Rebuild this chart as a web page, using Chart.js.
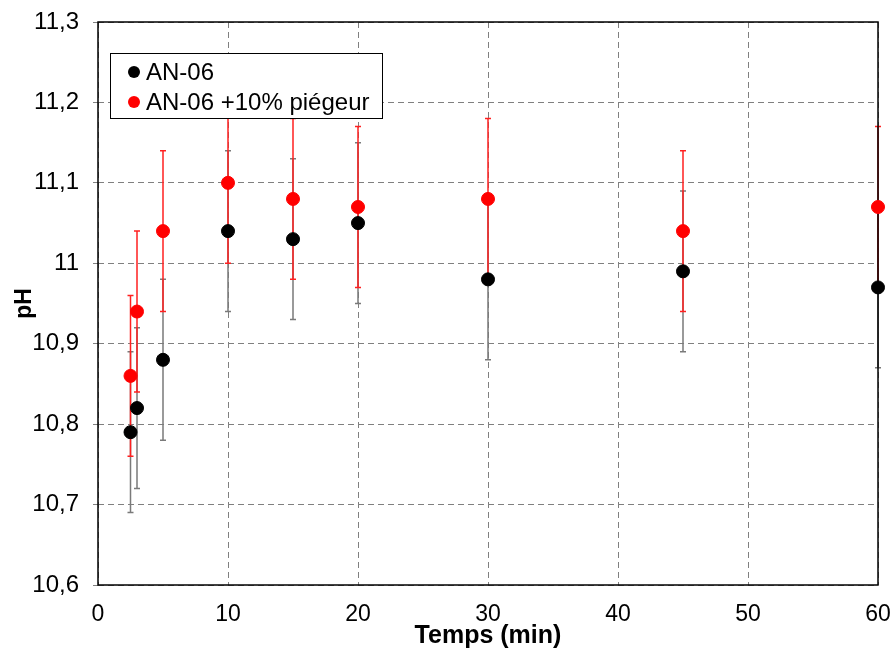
<!DOCTYPE html>
<html>
<head>
<meta charset="utf-8">
<script src="https://cdn.jsdelivr.net/npm/chart.js@4.4.1/dist/chart.umd.min.js"></script>
<style>
  html, body { margin: 0; padding: 0; background: #fff; }
  #wrap { width: 892px; height: 655px; }
</style>
</head>
<body>
<div id="wrap"><canvas id="phChart" width="892" height="655"></canvas></div>
<script>
// temps de prélèvement (min)
const timesAN06 = [2.5, 3, 5, 10, 15, 20, 30, 45, 60];
const timesPiegeur = [2.5, 3, 5, 10, 15, 20, 30, 45, 60];

// pH moyens
const phAN06 = [10.79, 10.82, 10.88, 11.04, 11.03, 11.05, 10.98, 10.99, 10.97];
const phPiegeur = [10.86, 10.94, 11.04, 11.10, 11.08, 11.07, 11.08, 11.04, 11.07];

// écarts (barres d'erreur)
const errAN06 = [0.1, 0.1, 0.1, 0.1, 0.1, 0.1, 0.1, 0.1, 0.1];
const errPiegeur = [0.1, 0.1, 0.1, 0.1, 0.1, 0.1, 0.1, 0.1, 0.1];

const seriesLabels = ['AN-06', 'AN-06 +10% piégeur'];
const xTitle = 'Temps (min)';
const yTitle = 'pH';

const FONT = "'Liberation Sans', Arial, sans-serif";

const toPoints = (xs, ys, errs) => xs.map((x, i) => ({ x: x, y: ys[i], err: errs[i] }));

// barres d'erreur verticales + cadre, dessinés sous les points
const errorBars = {
  id: 'errorBars',
  beforeDatasetsDraw(chart) {
    const { ctx, scales: { x, y } } = chart;
    // AN-06 d'abord, puis piégeur par-dessus
    chart.data.datasets.forEach((ds) => {
      ctx.save();
      ctx.strokeStyle = ds.errColor;
      ctx.lineWidth = 1.5;
      ds.data.forEach((p) => {
        const px = x.getPixelForValue(p.x);
        const yTop = y.getPixelForValue(p.y + p.err);
        const yBot = y.getPixelForValue(p.y - p.err);
        ctx.beginPath();
        ctx.moveTo(px, yTop);
        ctx.lineTo(px, yBot);
        ctx.moveTo(px - 3, yTop);
        ctx.lineTo(px + 3, yTop);
        ctx.moveTo(px - 3, yBot);
        ctx.lineTo(px + 3, yBot);
        ctx.stroke();
      });
      ctx.restore();
    });
    const a = chart.chartArea;
    ctx.save();
    ctx.strokeStyle = '#000';
    ctx.lineWidth = 1.5;
    ctx.strokeRect(a.left, a.top, a.right - a.left, a.bottom - a.top);
    ctx.restore();
  }
};

// légende encadrée dans la zone du graphique
const boxedLegend = {
  id: 'boxedLegend',
  afterDraw(chart) {
    const { ctx } = chart;
    const left = 110, top = 53, w = 272, h = 65;
    ctx.save();
    ctx.fillStyle = '#fff';
    ctx.fillRect(left, top, w, h);
    ctx.strokeStyle = '#000';
    ctx.lineWidth = 1;
    ctx.strokeRect(left + 0.5, top + 0.5, w, h);
    ctx.font = '24px ' + FONT;
    ctx.textBaseline = 'middle';
    chart.data.datasets.forEach((ds, i) => {
      const cy = top + 19 + i * 30;
      ctx.fillStyle = ds.backgroundColor;
      ctx.beginPath();
      ctx.arc(134, cy, 6, 0, Math.PI * 2);
      ctx.fill();
      ctx.fillStyle = '#000';
      ctx.fillText(ds.label, 146, cy + 1);
    });
    ctx.restore();
  }
};

new Chart(document.getElementById('phChart'), {
  type: 'scatter',
  data: {
    datasets: [
      {
        label: seriesLabels[0],
        data: toPoints(timesAN06, phAN06, errAN06),
        backgroundColor: '#000',
        borderColor: '#000',
        errColor: '#7a7a7a',
        pointRadius: 6.5,
        pointHoverRadius: 6.5,
        clip: false,
        order: 1
      },
      {
        label: seriesLabels[1],
        data: toPoints(timesPiegeur, phPiegeur, errPiegeur),
        backgroundColor: '#ff0000',
        borderColor: '#ff0000',
        errColor: '#ff2020',
        pointRadius: 6.5,
        pointHoverRadius: 6.5,
        clip: false,
        order: 0
      }
    ]
  },
  options: {
    responsive: false,
    animation: false,
    devicePixelRatio: 1,
    layout: { padding: { top: 22, right: 14, left: 0, bottom: 0 } },
    plugins: {
      legend: { display: false },
      tooltip: { enabled: false }
    },
    scales: {
      x: {
        type: 'linear',
        min: 0,
        max: 60,
        border: { display: false, dash: [6, 4] },
        grid: { color: '#808080', lineWidth: 1, drawTicks: false },
        ticks: {
          stepSize: 10,
          padding: 16,
          color: '#000',
          font: { family: FONT, size: 23 }
        },
        title: {
          display: true,
          text: xTitle,
          color: '#000',
          font: { family: FONT, size: 25, weight: 'bold' },
          padding: { top: 0, bottom: 4 }
        },
        afterFit(scale) {
          scale.height = 70;
          scale.paddingLeft = 0;
          scale.paddingRight = 0;
        }
      },
      y: {
        type: 'linear',
        min: 10.6,
        max: 11.3,
        border: { display: false, dash: [6, 4] },
        grid: { color: '#808080', lineWidth: 1, drawTicks: true, tickLength: 5 },
        ticks: {
          stepSize: 0.1,
          padding: 14,
          color: '#000',
          font: { family: FONT, size: 24 },
          callback: (v) => String(Math.round(v * 10) / 10).replace('.', ',')
        },
        title: {
          display: true,
          text: yTitle,
          color: '#000',
          font: { family: FONT, size: 23, weight: 'bold' },
          padding: { top: 11, bottom: 0 }
        },
        afterFit(scale) {
          scale.width = 98;
          scale.paddingTop = 0;
          scale.paddingBottom = 0;
        }
      }
    }
  },
  plugins: [errorBars, boxedLegend]
});
</script>
</body>
</html>
